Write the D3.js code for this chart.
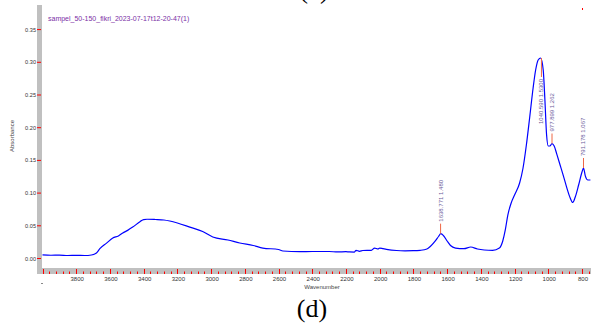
<!DOCTYPE html>
<html>
<head>
<meta charset="utf-8">
<script src="https://cdn.jsdelivr.net/npm/d3@7"></script>
<style>
  body { margin: 0; background: #fff; }
  svg { display: block; }
</style>
</head>
<body>
<svg id="chart" width="591" height="323"></svg>
<script>
// spectrum (wavenumber, absorbance)
const wavenumber = [4000, 3950, 3900, 3850, 3800, 3750, 3710, 3680, 3660, 3620, 3583, 3550, 3524, 3495, 3465, 3420,
  3400, 3380, 3330, 3280, 3245, 3200, 3126, 3050, 2990, 2900, 2830, 2750, 2693, 2600, 2574, 2474, 2400, 2300,
  2250, 2200, 2180, 2150, 2140, 2120, 2100, 2050, 2030, 2010, 2000, 1980, 1960, 1900, 1850, 1800, 1760, 1720,
  1700, 1670, 1650, 1638, 1620, 1600, 1580, 1550, 1500, 1460, 1420, 1380, 1330, 1290, 1270, 1255, 1240, 1220,
  1200, 1170, 1150, 1130, 1110, 1090, 1075, 1060, 1045, 1030, 1020, 1010, 1000, 990, 978, 965, 950, 930, 910,
  890, 870, 855, 840, 820, 800, 791, 780, 765, 750];
const absorbance = [0.0054, 0.0050, 0.0052, 0.0046, 0.0048, 0.0046, 0.0054, 0.0085, 0.0150, 0.0235, 0.0313, 0.0345, 0.0390, 0.0430, 0.0480, 0.0566,
  0.0595, 0.0600, 0.0596, 0.0589, 0.0573, 0.0543, 0.0480, 0.0413, 0.0329, 0.0283, 0.0237, 0.0199, 0.0160, 0.0138, 0.0115, 0.0104, 0.0107, 0.0107,
  0.0100, 0.0104, 0.0100, 0.0099, 0.0125, 0.0110, 0.0122, 0.0125, 0.0160, 0.0145, 0.0160, 0.0150, 0.0140, 0.0122, 0.0118, 0.0119, 0.0125, 0.0145,
  0.0183, 0.0268, 0.0340, 0.0380, 0.0344, 0.0268, 0.0199, 0.0160, 0.0150, 0.0176, 0.0145, 0.0130, 0.0125, 0.0160, 0.0268, 0.0436, 0.0665, 0.0849,
  0.0970, 0.1154, 0.1380, 0.1735, 0.2164, 0.2607, 0.2882, 0.3035, 0.3066, 0.2880, 0.2424, 0.1888, 0.1720, 0.1720, 0.1758, 0.1720, 0.1600, 0.1430, 0.1260,
  0.1080, 0.0925, 0.0856, 0.0940, 0.1124, 0.1323, 0.1384, 0.1260, 0.1200, 0.1200];

// peak picks
const peakWave = [1638.771, 1040.590, 977.899, 791.178];
const peakValue = [0.0380, 0.3066, 0.1758, 0.1384];
const peakText = ["1638.771  1.480", "1040.590  1.5300", "977.899  1.262", "791.178  1.067"];

const yTicks = [0, 0.05, 0.10, 0.15, 0.20, 0.25, 0.30, 0.35];
const xTickLabels = [3800, 3600, 3400, 3200, 3000, 2800, 2600, 2400, 2200, 2000, 1800, 1600, 1400, 1200, 1000, 800];

const title = "sampel_50-150_fikri_2023-07-17t12-20-47(1)";

const data = wavenumber.map((w, i) => ({ w: w, a: absorbance[i] }));

const svg = d3.select("#chart");
const x = d3.scaleLinear().domain([4000, 800]).range([42.5, 582]);
const y = d3.scaleLinear().domain([0, 0.35]).range([258.5, 29.6]);

// caption of the panel above (cut off) and this one
svg.append("text").attr("x", 314).attr("y", -2).attr("text-anchor", "middle")
  .style("font-family", "Liberation Serif, Times New Roman, serif").style("font-size", "27px").text("(c)");
svg.append("text").attr("x", 312).attr("y", 317).attr("text-anchor", "middle")
  .style("font-family", "Liberation Serif, Times New Roman, serif").style("font-size", "26px").text("(d)");

// gray axis bars
svg.append("rect").attr("x", 37).attr("y", 5).attr("width", 5).attr("height", 269).attr("fill", "#c0c0c0");
svg.append("rect").attr("x", 37).attr("y", 268).attr("width", 554).attr("height", 6).attr("fill", "#c0c0c0");

// y ticks
svg.selectAll(".ytick").data(yTicks).join("line").attr("class", "ytick")
  .attr("x1", 37).attr("x2", 41).attr("y1", d => y(d)).attr("y2", d => y(d))
  .attr("stroke", "#ff0000").attr("stroke-width", 1);
svg.selectAll(".ylab").data(yTicks).join("text").attr("class", "ylab")
  .attr("x", 36).attr("y", d => y(d) + 2).attr("text-anchor", "end")
  .style("font-family", "Liberation Sans, Arial, sans-serif").style("font-size", "5.6px").attr("fill", "#333")
  .text(d => d.toFixed(2));

svg.append("text").attr("transform", "translate(14,136) rotate(-90)").attr("text-anchor", "middle")
  .style("font-family", "Liberation Sans, Arial, sans-serif").style("font-size", "6px").attr("fill", "#444")
  .text("Absorbance");

// x ticks every 40, majors every 200
const xTicks = d3.range(760, 4001, 40);
svg.selectAll(".xtick").data(xTicks).join("line").attr("class", "xtick")
  .attr("x1", d => Math.round(x(d)) + 0.5).attr("x2", d => Math.round(x(d)) + 0.5)
  .attr("y1", d => d % 200 === 0 ? 269 : 271.5).attr("y2", 274)
  .attr("stroke", "#ff0000").attr("stroke-width", 1);
svg.selectAll(".xlab").data(xTickLabels).join("text").attr("class", "xlab")
  .attr("x", d => x(d) + 1).attr("y", 280.5).attr("text-anchor", "middle")
  .style("font-family", "Liberation Sans, Arial, sans-serif").style("font-size", "6px").attr("fill", "#333")
  .text(d => d);
svg.append("line").attr("x1", 41).attr("x2", 43).attr("y1", 283.5).attr("y2", 283.5).attr("stroke", "#888");
svg.append("text").attr("x", 322).attr("y", 289).attr("text-anchor", "middle")
  .style("font-family", "Liberation Sans, Arial, sans-serif").style("font-size", "6px").attr("fill", "#444")
  .text("Wavenumber");

// small red mark top right
svg.append("rect").attr("x", 582).attr("y", 8).attr("width", 1).attr("height", 2).attr("fill", "#ff0000");

// title
svg.append("text").attr("x", 48).attr("y", 20.5)
  .style("font-family", "Liberation Sans, Arial, sans-serif").style("font-size", "7px").attr("fill", "#7a2fa6")
  .text(title);

// spectrum
svg.append("clipPath").attr("id", "plotclip").append("rect")
  .attr("x", 42).attr("y", 5).attr("width", 549).attr("height", 263);
const line = d3.line().x(d => x(d.w)).y(d => y(d.a)).curve(d3.curveMonotoneX);
svg.append("path").datum(data).attr("clip-path", "url(#plotclip)")
  .attr("d", line).attr("fill", "none").attr("stroke", "#0000ff").attr("stroke-width", 1.2);

// peak markers and labels (label flips below the line when it would leave the plot)
peakWave.forEach((w, i) => {
  const px = x(w), py = y(peakValue[i]);
  const g = svg.append("g");
  const txt = g.append("text")
    .style("font-family", "Liberation Sans, Arial, sans-serif").style("font-size", "6px").attr("fill", "#6a5a9a")
    .text(peakText[i]);
  const len = txt.node().getComputedTextLength();
  let lineEnd, ty, anchor;
  if (py - 12 - len < 20) {
    lineEnd = py + 19; ty = lineEnd + 2; anchor = "end";
  } else {
    lineEnd = py - 10; ty = lineEnd - 2; anchor = "start";
  }
  g.append("line").attr("x1", px).attr("x2", px).attr("y1", py).attr("y2", lineEnd)
    .attr("stroke", "#ee6644").attr("stroke-width", 1);
  txt.attr("text-anchor", anchor)
    .attr("transform", `translate(${px + 2},${ty}) rotate(-90)`);
});
</script>
</body>
</html>
